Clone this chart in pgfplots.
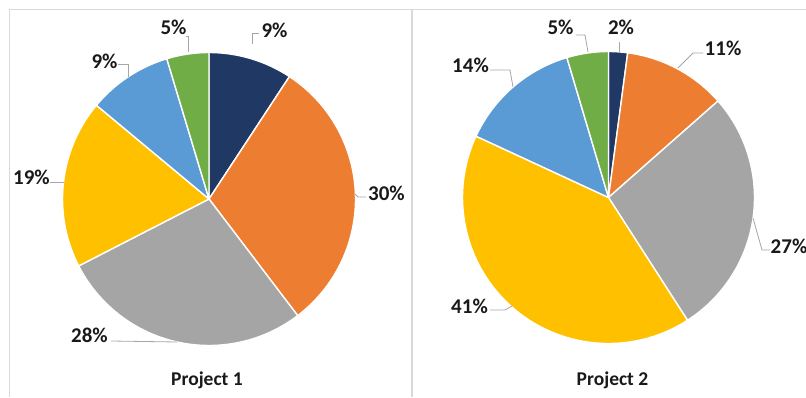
\documentclass[border=0pt]{standalone}
\usepackage{pgfplots}
\usepackage{pgfplotstable}
\usepackage{fontspec}
\setmainfont{Carlito}
\pgfplotsset{compat=1.18}

\definecolor{pnavy}{HTML}{203864}
\definecolor{porange}{HTML}{ED7D31}
\definecolor{pgray}{HTML}{A5A5A5}
\definecolor{pgold}{HTML}{FFC000}
\definecolor{pblue}{HTML}{5B9BD5}
\definecolor{pgreen}{HTML}{70AD47}
\definecolor{frame}{HTML}{D9D9D9}
\definecolor{leader}{HTML}{A6A6A6}

% Project 1 shares (percent), clockwise from 12 o'clock
\pgfplotstableread{
value color
9.25  pnavy
30.4  porange
27.8  pgray
18.6  pgold
9.3   pblue
4.65  pgreen
}\projA

% Project 2 shares (percent)
\pgfplotstableread{
value color
2.1   pnavy
11.4  porange
27.4  pgray
41.0  pgold
13.5  pblue
4.6   pgreen
}\projB

\newcommand\drawpie[4]{% table, cx, cy, r
  \pgfplotstablegetrowsof{#1}%
  \pgfmathtruncatemacro\nrows{\pgfplotsretval-1}%
  \def\cum{0}%
  \pgfplotsforeachungrouped \i in {0,...,\nrows}{%
    \pgfplotstablegetelem{\i}{value}\of{#1}\let\v\pgfplotsretval
    \pgfplotstablegetelem{\i}{color}\of{#1}\let\c\pgfplotsretval
    \pgfmathsetmacro\aone{90-3.6*\cum}%
    \pgfmathsetmacro\atwo{90-3.6*(\cum+\v)}%
    \pgfmathsetmacro\cum{\cum+\v}%
    \edef\temp{\noexpand\fill[\c, draw=white, line width=1.4pt, line join=round]
      (axis cs:#2,#3) -- ++(\aone:#4pt) arc[start angle=\aone, end angle=\atwo, radius=#4pt] -- cycle;}%
    \temp
  }%
}

\begin{document}
\begin{tikzpicture}[
  lbl/.style={font=\bfseries\fontsize{21}{24}\selectfont, text=black!90, inner sep=0pt},
  ttl/.style={font=\bfseries\fontsize{19.5}{22}\selectfont, text=black!90, inner sep=0pt},
  ld/.style={draw=leader, line width=0.8pt},
]
\begin{axis}[
  x=1pt, y=1pt, scale only axis,
  xmin=0, xmax=806, ymin=0, ymax=397,
  hide axis, clip=false, disabledatascaling,
]
% panel frames
\draw[frame, line width=1pt] (axis cs:9,0) -- (axis cs:9,387) -- (axis cs:806,387);
\draw[frame, line width=2pt] (axis cs:412,0) -- (axis cs:412,387);

\drawpie{\projA}{209}{198}{146.5}
\drawpie{\projB}{608.5}{199.5}{146}

% leader lines, project 1
\draw[ld] (axis cs:252,353) -- (axis cs:252,364) -- (axis cs:259,364);
\draw[ld] (axis cs:188,345) -- (axis cs:188,361) -- (axis cs:186,361);
\draw[ld] (axis cs:118,333) -- (axis cs:128,333) -- (axis cs:128,320);
\draw[ld] (axis cs:50,215) -- (axis cs:63.5,215);
\draw[ld] (axis cs:355,203) -- (axis cs:358,200) -- (axis cs:366,200);
\draw[ld] (axis cs:111,56) -- (axis cs:177,55);
% leader lines, project 2
\draw[ld] (axis cs:619,345) -- (axis cs:619,355);
\draw[ld] (axis cs:588,345) -- (axis cs:585,362) -- (axis cs:576,362);
\draw[ld] (axis cs:678,329) -- (axis cs:693,344) -- (axis cs:703,344);
\draw[ld] (axis cs:490,327) -- (axis cs:510,327) -- (axis cs:513,310);
\draw[ld] (axis cs:753,179) -- (axis cs:762,147) -- (axis cs:770,147);
\draw[ld] (axis cs:490,87) -- (axis cs:505,87) -- (axis cs:512,91);

% labels, project 1
\node[lbl] at (axis cs:274.5,367) {9\%};
\node[lbl] at (axis cs:173.5,370) {5\%};
\node[lbl] at (axis cs:104.5,336) {9\%};
\node[lbl] at (axis cs:31.5,219.5) {19\%};
\node[lbl] at (axis cs:386.5,203.5) {30\%};
\node[lbl] at (axis cs:89.5,62) {28\%};
\node[ttl] at (axis cs:207,16.5) {Project 1};
% labels, project 2
\node[lbl] at (axis cs:621,370) {2\%};
\node[lbl] at (axis cs:560.5,370) {5\%};
\node[lbl] at (axis cs:723,348.5) {11\%};
\node[lbl] at (axis cs:470.5,332) {14\%};
\node[lbl] at (axis cs:789,151) {27\%};
\node[lbl] at (axis cs:469.5,90.5) {41\%};
\node[ttl] at (axis cs:612.5,16.5) {Project 2};
\end{axis}
\pgfresetboundingbox
\useasboundingbox (current axis.south west) rectangle (current axis.north east);
\end{tikzpicture}
\end{document}
